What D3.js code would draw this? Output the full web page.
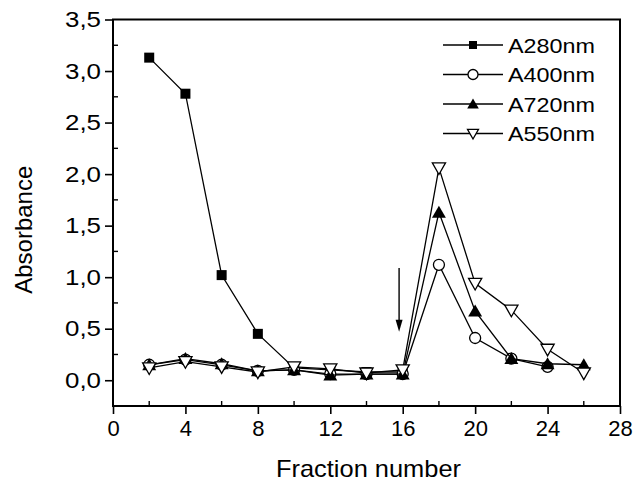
<!DOCTYPE html>
<html>
<head>
<meta charset="utf-8">
<script src="https://cdn.jsdelivr.net/npm/d3@7"></script>
<style>
  body { margin: 0; background: #fff; }
  text { font-family: Arial, "Liberation Sans", sans-serif; fill: #000; }
</style>
</head>
<body>
<script>
// fraction numbers
let fractions280 = [2, 4, 6, 8, 10, 12, 14, 16]
let fractions400 = [2, 4, 6, 8, 10, 12, 14, 16, 18, 20, 22, 24]
let fractionsAll = [2, 4, 6, 8, 10, 12, 14, 16, 18, 20, 22, 24, 26]

// absorbance values
let a280 = [3.13, 2.78, 1.02, 0.45, 0.12, 0.10, 0.08, 0.08]
let a400 = [0.15, 0.20, 0.15, 0.09, 0.10, 0.06, 0.06, 0.06, 1.12, 0.41, 0.21, 0.13]
let a720 = [0.15, 0.21, 0.16, 0.09, 0.10, 0.05, 0.06, 0.06, 1.63, 0.67, 0.21, 0.16, 0.15]
let a550 = [0.12, 0.18, 0.13, 0.08, 0.13, 0.11, 0.07, 0.10, 2.06, 0.94, 0.68, 0.30, 0.07]

let xTicks = [0, 4, 8, 12, 16, 20, 24, 28]
let yTicks = [0, 0.5, 1, 1.5, 2, 2.5, 3, 3.5]

// arrow marking fraction 16
let arrowX = 15.8, arrowTop = 1.09, arrowTip = 0.47

let width = 634, height = 482
let plotLeft = 113, plotRight = 620, plotTop = 19.5, plotBottom = 406

let svg = d3.select("body").append("svg")
    .attr("width", width)
    .attr("height", height)

let x = d3.scaleLinear().domain([0, 28]).range([plotLeft, plotRight])
let y = d3.scaleLinear().domain([-0.25, 3.5]).range([plotBottom, plotTop])

// frame
svg.append("rect")
    .attr("x", plotLeft).attr("y", plotTop)
    .attr("width", plotRight - plotLeft).attr("height", plotBottom - plotTop)
    .attr("fill", "none").attr("stroke", "#000").attr("stroke-width", 2)

// x axis: major ticks out, minor ticks in
let xAxis = svg.append("g").attr("transform", `translate(0,${plotBottom})`)
    .call(d3.axisBottom(x).tickValues(xTicks).tickSize(8).tickPadding(6).tickFormat(d3.format("d")))
xAxis.select(".domain").remove()
xAxis.selectAll("line").attr("stroke-width", 1.6)
xAxis.selectAll("text").style("font-size", "22px")
svg.append("g").attr("transform", `translate(0,${plotBottom})`)
    .selectAll("line").data(d3.range(2, 28, 4)).enter().append("line")
    .attr("x1", d => x(d)).attr("x2", d => x(d))
    .attr("y1", 0).attr("y2", -5)
    .attr("stroke", "#000").attr("stroke-width", 1.4)

// y axis
let yAxis = svg.append("g").attr("transform", `translate(${plotLeft},0)`)
    .call(d3.axisLeft(y).tickValues(yTicks).tickSize(8).tickPadding(4).tickFormat(d => d.toFixed(1).replace(".", ",")))
yAxis.select(".domain").remove()
yAxis.selectAll("line").attr("stroke-width", 1.6)
yAxis.selectAll("text").style("font-size", "22px")
    .attr("textLength", 36).attr("lengthAdjust", "spacingAndGlyphs")
svg.append("g").attr("transform", `translate(${plotLeft},0)`)
    .selectAll("line").data(d3.range(-0.25, 3.5, 0.5)).enter().append("line")
    .attr("y1", d => y(d)).attr("y2", d => y(d))
    .attr("x1", 0).attr("x2", 5)
    .attr("stroke", "#000").attr("stroke-width", 1.4)

// axis titles
svg.append("text")
    .attr("x", (plotLeft + plotRight) / 2 + 2).attr("y", 477)
    .attr("text-anchor", "middle")
    .style("font-size", "24px")
    .attr("textLength", 185).attr("lengthAdjust", "spacingAndGlyphs")
    .text("Fraction number")

svg.append("text")
    .attr("transform", `translate(32,${(plotTop + plotBottom) / 2 + 17}) rotate(-90)`)
    .attr("text-anchor", "middle")
    .style("font-size", "24px")
    .text("Absorbance")

// markers
function drawMarker(g, type, size) {
    let s = size
    if (type == "square") {
        g.append("rect").attr("x", -s / 2).attr("y", -s / 2)
            .attr("width", s).attr("height", s).attr("fill", "#000")
    } else if (type == "circle") {
        g.append("circle").attr("r", s / 2)
            .attr("fill", "#fff").attr("stroke", "#000").attr("stroke-width", 1.3)
    } else if (type == "triangle") {
        g.append("path")
            .attr("d", `M0,${-s * 0.55}L${s * 0.58},${s * 0.45}L${-s * 0.58},${s * 0.45}Z`)
            .attr("fill", "#000")
    } else {
        g.append("path")
            .attr("d", `M0,${s * 0.55}L${s * 0.55},${-s * 0.42}L${-s * 0.55},${-s * 0.42}Z`)
            .attr("fill", "#fff").attr("stroke", "#000").attr("stroke-width", 1.3)
    }
}

let series = [
    { name: "A280nm", xs: fractions280, ys: a280, marker: "square", size: 10 },
    { name: "A400nm", xs: fractions400, ys: a400, marker: "circle", size: 11 },
    { name: "A720nm", xs: fractionsAll, ys: a720, marker: "triangle", size: 12 },
    { name: "A550nm", xs: fractionsAll, ys: a550, marker: "down", size: 12 }
]

let line = d3.line().x(d => x(d[0])).y(d => y(d[1]))

series.forEach(s => {
    let pts = s.xs.map((f, i) => [f, s.ys[i]])
    svg.append("path")
        .attr("d", line(pts))
        .attr("fill", "none").attr("stroke", "#000").attr("stroke-width", 1.3)
    pts.forEach(p => {
        let g = svg.append("g").attr("transform", `translate(${x(p[0])},${y(p[1])})`)
        drawMarker(g, s.marker, s.size)
    })
})

// arrow
svg.append("line")
    .attr("x1", x(arrowX)).attr("x2", x(arrowX))
    .attr("y1", y(arrowTop)).attr("y2", y(arrowTip) - 8)
    .attr("stroke", "#000").attr("stroke-width", 1.4)
svg.append("path")
    .attr("d", `M${x(arrowX)},${y(arrowTip)}L${x(arrowX) - 3.5},${y(arrowTip) - 12}L${x(arrowX) + 3.5},${y(arrowTip) - 12}Z`)
    .attr("fill", "#000")

// legend
let legend = svg.append("g")
series.forEach((s, i) => {
    let ly = 45 + i * 29.5
    legend.append("line")
        .attr("x1", 443).attr("x2", 503).attr("y1", ly).attr("y2", ly)
        .attr("stroke", "#000").attr("stroke-width", 1.3)
    let g = legend.append("g").attr("transform", `translate(473,${ly})`)
    drawMarker(g, s.marker, s.marker == "square" ? 8 : 10)
    legend.append("text")
        .attr("x", 508).attr("y", ly + 7.5)
        .style("font-size", "21px")
        .attr("textLength", 87).attr("lengthAdjust", "spacingAndGlyphs")
        .text(s.name)
})
</script>
</body>
</html>
